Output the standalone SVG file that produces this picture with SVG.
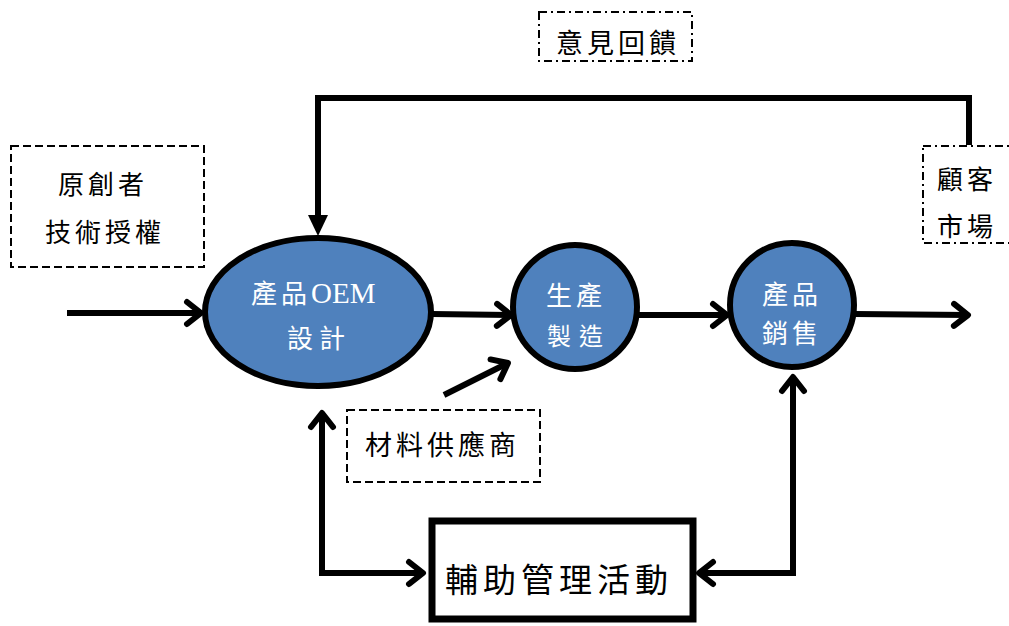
<svg xmlns="http://www.w3.org/2000/svg" width="1009" height="626" viewBox="0 0 1009 626">
  <style>
    .lbl { font-family: "Liberation Serif", "Noto Sans CJK TC", serif; fill: #000; }
    .wlbl { font-family: "Liberation Serif", "Noto Sans CJK TC", serif; fill: #fff; }
    .dash { fill: #fff; stroke: #000; stroke-width: 2; stroke-dasharray: 8 4; }
    .dashdot { fill: #fff; stroke: #000; stroke-width: 2; stroke-dasharray: 8 4 2 4; }
    .node { fill: #4F81BD; stroke: #000; stroke-width: 6; }
    .wire { fill: none; stroke: #000; stroke-width: 6; }
  </style>
  <defs>
    <marker id="chev" viewBox="-20 -16 24 32" refX="0" refY="0" markerWidth="24" markerHeight="32" markerUnits="userSpaceOnUse" orient="auto-start-reverse">
      <path d="M-14,-11 L0,0 L-14,11" fill="none" stroke="#000" stroke-width="6" stroke-linecap="round" stroke-linejoin="round"/>
    </marker>
    <marker id="tri" viewBox="-20 -11 22 22" refX="0" refY="0" markerWidth="22" markerHeight="22" markerUnits="userSpaceOnUse" orient="auto">
      <path d="M-20,-10 L0,0 L-20,10 Z" fill="#000"/>
    </marker>
  </defs>

  <!-- connectors -->
  <g id="connectors">
    <path class="wire" d="M969,145 V98 H318 V218"/>
    <path d="M308,215 L328,215 L318,236 Z" fill="#000"/>
    <path class="wire" d="M67,313 H201" marker-end="url(#chev)"/>
    <path class="wire" d="M432,314 L511,315" marker-end="url(#chev)"/>
    <path class="wire" d="M638,315 H727" marker-end="url(#chev)"/>
    <path class="wire" d="M855,314 L968,315" marker-end="url(#chev)"/>
    <path class="wire" d="M444,395 L508,363" marker-end="url(#chev)"/>
    <path class="wire" d="M322,413 V573 H423" marker-start="url(#chev)" marker-end="url(#chev)"/>
    <path class="wire" d="M699,573 H793 V377" marker-start="url(#chev)" marker-end="url(#chev)"/>
  </g>

  <g id="feedback">
    <rect class="dashdot" x="539" y="12" width="153" height="49"/>
    <text class="lbl" x="556" y="53" font-size="27" letter-spacing="4">意見回饋</text>
  </g>

  <g id="license">
    <rect class="dash" x="11" y="146" width="193" height="121"/>
    <text class="lbl" x="58" y="194" font-size="26" letter-spacing="4">原創者</text>
    <text class="lbl" x="45" y="242" font-size="26" letter-spacing="4">技術授權</text>
  </g>

  <g id="market">
    <rect class="dashdot" x="923" y="146" width="100" height="97"/>
    <text class="lbl" x="937" y="189" font-size="26" letter-spacing="4">顧客</text>
    <text class="lbl" x="937" y="236" font-size="26" letter-spacing="4">市場</text>
  </g>

  <g id="design">
    <ellipse class="node" cx="318" cy="312" rx="113" ry="74"/>
    <text class="wlbl" x="251" y="303" font-size="26"><tspan letter-spacing="4">產品</tspan><tspan font-size="29">OEM</tspan></text>
    <text class="wlbl" x="287" y="348" font-size="26" letter-spacing="6">設計</text>
  </g>

  <g id="manufacture">
    <circle class="node" cx="575" cy="307" r="62"/>
    <text class="wlbl" x="546" y="305" font-size="26" letter-spacing="4">生產</text>
    <text class="wlbl" x="547" y="345" font-size="24" letter-spacing="8">製造</text>
  </g>

  <g id="sales">
    <circle class="node" cx="792" cy="305" r="62"/>
    <text class="wlbl" x="762" y="304" font-size="26" letter-spacing="4">產品</text>
    <text class="wlbl" x="762" y="343" font-size="26" letter-spacing="4">銷售</text>
  </g>

  <g id="supplier">
    <rect class="dash" x="347" y="410" width="193" height="72"/>
    <text class="lbl" x="365" y="455" font-size="27" letter-spacing="4">材料供應商</text>
  </g>

  <g id="support">
    <rect x="432" y="521" width="261" height="98" fill="#fff" stroke="#000" stroke-width="7"/>
    <text class="lbl" x="445" y="592" font-size="33" letter-spacing="5">輔助管理活動</text>
  </g>
</svg>
